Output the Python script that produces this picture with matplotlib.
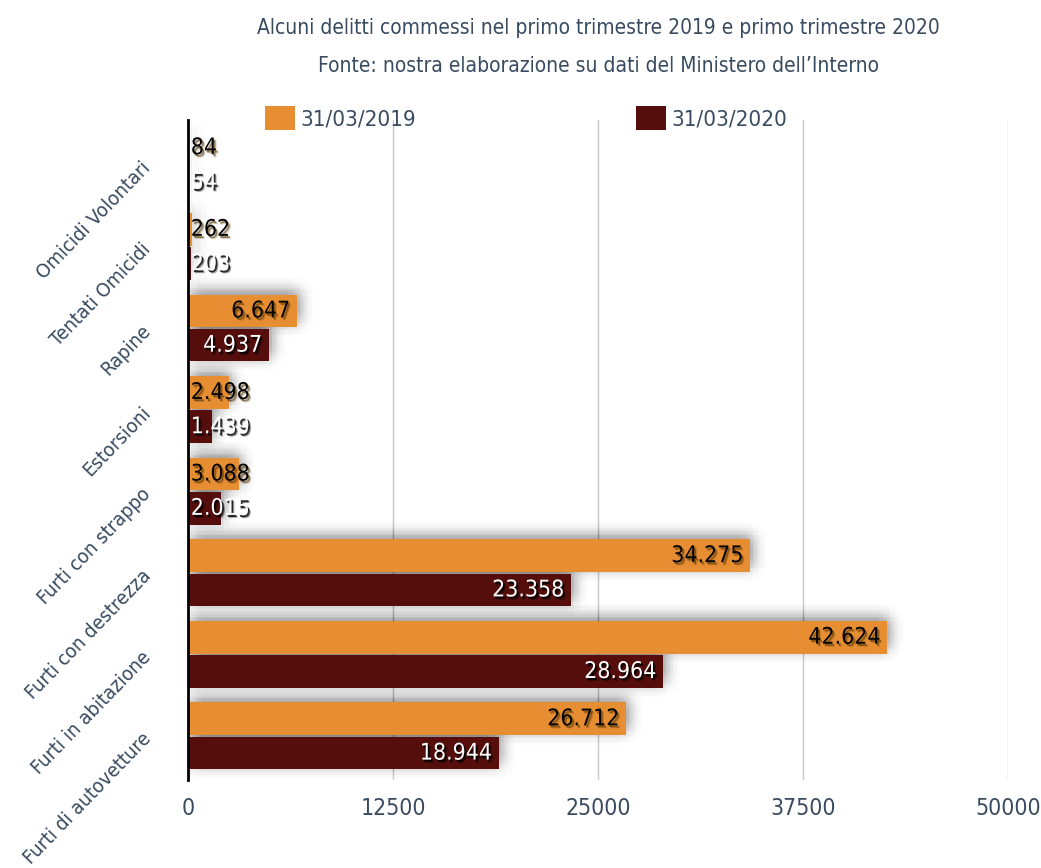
import matplotlib
matplotlib.use("Agg")
import matplotlib.pyplot as plt
import matplotlib.patheffects as pe
import numpy as np

plt.rcParams['font.family'] = ['DejaVu Sans']
plt.rcParams['font.stretch'] = 'condensed'

categories = ["Omicidi Volontari", "Tentati Omicidi", "Rapine", "Estorsioni",
              "Furti con strappo", "Furti con destrezza", "Furti in abitazione",
              "Furti di autovetture"]
vals_2019 = [84, 262, 6647, 2498, 3088, 34275, 42624, 26712]
vals_2020 = [54, 203, 4937, 1439, 2015, 23358, 28964, 18944]
series_names = ["31/03/2019", "31/03/2020"]
xticks = [0, 12500, 25000, 37500, 50000]

ORANGE = "#E88E32"
DARK = "#550E0C"
TXT = "#384B60"

fig = plt.figure(figsize=(10.41, 8.68), dpi=100)
ax = fig.add_axes([188 / 1041, 1 - 780 / 868, 820 / 1041, 660 / 868])

y = np.arange(len(categories))
h = 0.4
off = 0.21

# soft shadow layer behind the bars
ring = []
for r in (2, 4, 6, 8, 10):
    for a in np.linspace(0, 2 * np.pi, 12, endpoint=False):
        ring.append(pe.SimplePatchShadow(offset=(2 + r * np.cos(a), 3 + r * np.sin(a)),
                                         shadow_rgbFace="black", alpha=0.008))
for vals, dy in ((vals_2019, -off), (vals_2020, off)):
    sb = ax.barh(y + dy, vals, height=h, color="none", zorder=1.5)
    for p in sb:
        p.set_path_effects(ring)

b19 = ax.barh(y - off, vals_2019, height=h, color=ORANGE, zorder=2, label=series_names[0])
b20 = ax.barh(y + off, vals_2020, height=h, color=DARK, zorder=2, label=series_names[1])

fx_black = [pe.SimplePatchShadow(offset=(1.2, -1.5), shadow_rgbFace="#5a3a08", alpha=0.6),
            pe.SimplePatchShadow(offset=(2.0, -2.2), shadow_rgbFace="#5a3a08", alpha=0.25),
            pe.Normal()]
fx_white = [pe.SimplePatchShadow(offset=(1.2, -1.5), shadow_rgbFace="black", alpha=0.8),
            pe.SimplePatchShadow(offset=(2.0, -2.2), shadow_rgbFace="black", alpha=0.35),
            pe.Normal()]


def fmt(v):
    return f"{v:,}".replace(",", ".")


def put_labels(vals, dy, color, fx):
    for i, v in enumerate(vals):
        if v > 4000:
            ax.annotate(fmt(v), (v, i + dy), xytext=(-5, 0), textcoords="offset points",
                        ha="right", va="center", fontsize=16.5, color=color,
                        path_effects=fx, zorder=4)
        else:
            ax.annotate(fmt(v), (0, i + dy), xytext=(2, 0), textcoords="offset points",
                        ha="left", va="center", fontsize=16.5, color=color,
                        path_effects=fx, zorder=4)


put_labels(vals_2019, -off, "black", fx_black)
put_labels(vals_2020, off, "white", fx_white)

ax.set_xlim(0, 50000)
ax.set_ylim(len(categories) - 0.46, -0.55)
ax.set_xticks(xticks)
ax.set_xticklabels([str(t) for t in xticks])
ax.set_yticks(y)
ax.set_yticklabels(categories)
for lab in ax.get_yticklabels():
    lab.set_rotation(46)
    lab.set_ha("right")
    lab.set_va("center")
    lab.set_rotation_mode("anchor")
ax.tick_params(axis="x", length=0, pad=12, labelsize=16.5, labelcolor=TXT)
ax.tick_params(axis="y", length=0, pad=29, labelsize=14.5, labelcolor=TXT)
ax.grid(axis="x", color="#c8c8c8", linewidth=1, zorder=0.5)
ax.set_axisbelow(True)
for s in ("top", "right", "bottom"):
    ax.spines[s].set_visible(False)
ax.spines["left"].set_linewidth(2)
ax.spines["left"].set_color("black")
ax.spines["left"].set_zorder(5)

ax.legend(handles=[b19, b20], ncol=2, loc="center left",
          bbox_to_anchor=(0.094, 1.003), frameon=False, fontsize=16,
          labelcolor=TXT, handlelength=1.35, handleheight=1.3,
          handletextpad=0.25, columnspacing=9.9, borderpad=0, borderaxespad=0)

fig.text(598 / 1041, 1 - 28 / 868,
         "Alcuni delitti commessi nel primo trimestre 2019 e primo trimestre 2020",
         ha="center", va="center", fontsize=15, color=TXT)
fig.text(598 / 1041, 1 - 66 / 868,
         "Fonte: nostra elaborazione su dati del Ministero dell\u2019Interno",
         ha="center", va="center", fontsize=15, color=TXT)

fig.savefig("out.png", dpi=100)
